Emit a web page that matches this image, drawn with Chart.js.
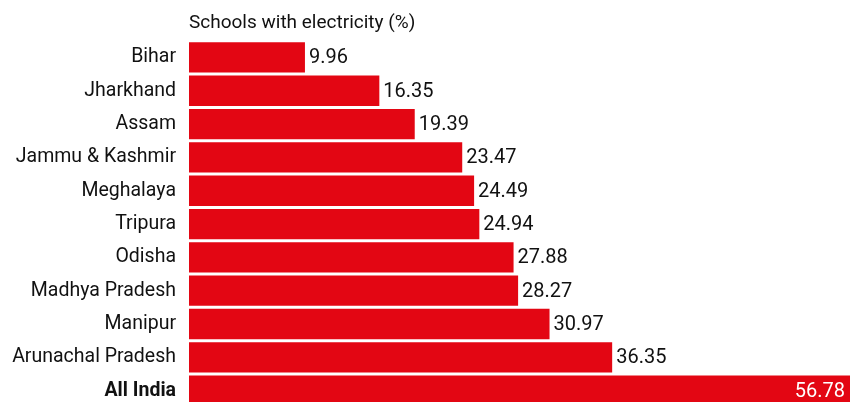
<!DOCTYPE html>
<html>
<head>
<meta charset="utf-8">
<script src="https://cdn.jsdelivr.net/npm/chart.js@4"></script>
<style>
  html, body { margin: 0; padding: 0; background: #fff; overflow: hidden; }
  canvas { display: block; }
</style>
</head>
<body>
<canvas id="bar-chart" width="850" height="432"></canvas>
<script>
// States ranked by share of schools with electricity
const states = ["Bihar", "Jharkhand", "Assam", "Jammu & Kashmir", "Meghalaya", "Tripura",
                "Odisha", "Madhya Pradesh", "Manipur", "Arunachal Pradesh", "All India"];
const electricity = [9.96, 16.35, 19.39, 23.47, 24.49, 24.94, 27.88, 28.27, 30.97, 36.35, 56.78];

const RED = "#e30613";
const FONT = "Roboto, 'Liberation Sans', sans-serif";

// Value labels: after the bar end, or inside in white for the last (total) row
const valueLabels = {
    id: "valueLabels",
    afterDatasetsDraw(chart) {
        const ctx = chart.ctx;
        const meta = chart.getDatasetMeta(0);
        ctx.save();
        ctx.font = "20px " + FONT;
        ctx.textBaseline = "middle";
        meta.data.forEach((bar, i) => {
            const txt = electricity[i].toFixed(2);
            if (i === electricity.length - 1) {
                ctx.fillStyle = "#fff";
                ctx.textAlign = "right";
                ctx.fillText(txt, bar.x - 5, bar.y + 1);
            } else {
                ctx.fillStyle = "#111";
                ctx.textAlign = "left";
                ctx.fillText(txt, bar.x + 4, bar.y + 1);
            }
        });
        ctx.restore();
    }
};

const ctx = document.getElementById("bar-chart").getContext("2d");
let barChart = new Chart(ctx, {
    type: "bar",
    data: {
        labels: states,
        datasets: [{
            label: "Schools with electricity (%)",
            data: electricity,
            backgroundColor: RED,
            categoryPercentage: 1,
            barPercentage: 0.91,
        }]
    },
    options: {
        indexAxis: "y",
        responsive: false,
        animation: false,
        layout: { padding: { left: 0, right: 0, top: 0, bottom: 4 } },
        scales: {
            x: { display: false, min: 0, max: 56.78 },
            y: {
                grid: { display: false, drawTicks: false },
                border: { display: false },
                afterFit: scale => { scale.width = 189; },
                ticks: {
                    padding: 13,
                    color: "#111",
                    font: ctx => ({
                        family: FONT,
                        size: 19.5,
                        weight: ctx.index === states.length - 1 ? "bold" : "normal"
                    })
                }
            }
        },
        plugins: {
            legend: { display: false },
            tooltip: { enabled: false },
            title: {
                display: true,
                text: "Schools with electricity (%)",
                align: "start",
                fullSize: false,
                color: "#111",
                font: { family: FONT, size: 19, weight: "normal" },
                padding: { top: 12, bottom: 6 }
            }
        }
    },
    plugins: [valueLabels]
});
</script>
</body>
</html>
